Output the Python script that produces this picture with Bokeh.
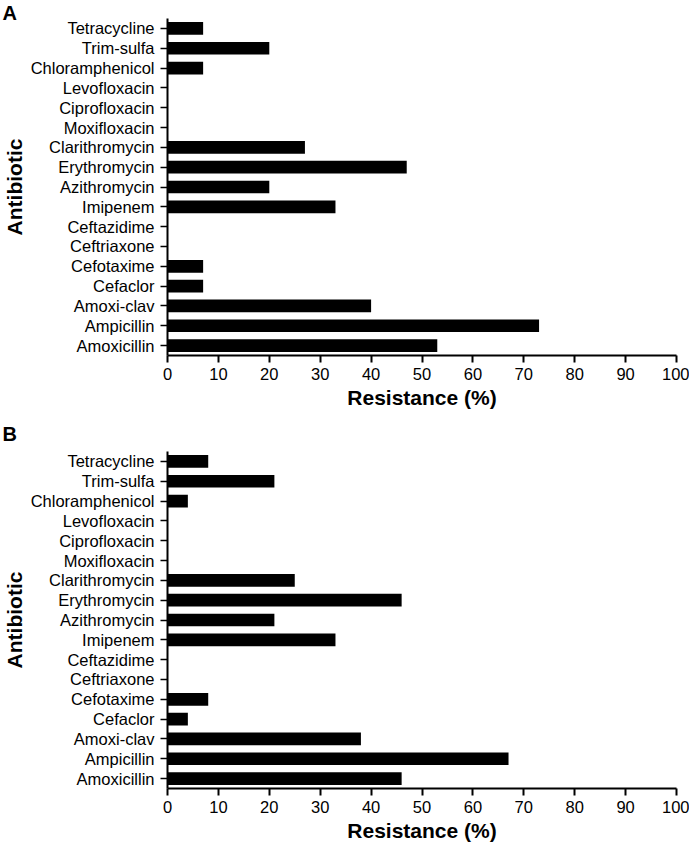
from bokeh.plotting import figure
from bokeh.models import Range1d, Label, FixedTicker
from bokeh.layouts import column
from bokeh.embed import file_html
from bokeh.resources import INLINE

antibiotics = ["Tetracycline", "Trim-sulfa", "Chloramphenicol", "Levofloxacin",
               "Ciprofloxacin", "Moxifloxacin", "Clarithromycin", "Erythromycin",
               "Azithromycin", "Imipenem", "Ceftazidime", "Ceftriaxone",
               "Cefotaxime", "Cefaclor", "Amoxi-clav", "Ampicillin", "Amoxicillin"]
resistance_a = [7, 20, 7, 0, 0, 0, 27, 47, 20, 33, 0, 0, 7, 7, 40, 73, 53]
resistance_b = [8, 21, 4, 0, 0, 0, 25, 46, 21, 33, 0, 0, 8, 4, 38, 67, 46]
x_ticks = [0, 10, 20, 30, 40, 50, 60, 70, 80, 90, 100]
panel_labels = ["A", "B"]
x_title = "Resistance (%)"
y_title = "Antibiotic"

FONT = "Liberation Sans"
W = 689
X0_PX, X100_PX = 167, 676          # pixel position of 0 and 100 on the x axis
N = len(antibiotics)
positions = list(range(N - 1, -1, -1))   # top item -> highest position
tick_names = {pos: name for pos, name in zip(positions, antibiotics)}


def make_panel(values, letter, height, frame_top, frame_bottom, letter_center):
    # whole canvas is the plotting frame; axes are placed at fixed data locations
    pxu = (X100_PX - X0_PX) / 100.0
    xr = Range1d(-X0_PX / pxu, 100 + (W - X100_PX) / pxu)
    pyu = (frame_bottom - frame_top) / N
    ytop, ybot = N - 0.5, -0.5
    yr = Range1d(ybot - (height - frame_bottom) / pyu, ytop + frame_top / pyu)

    p = figure(width=W, height=height, output_backend="svg", toolbar_location=None,
               x_range=xr, y_range=yr, min_border=0,
               min_border_left=0, min_border_right=0,
               min_border_top=0, min_border_bottom=0)
    p.hbar(y=positions, right=values, left=0, height=0.64,
           fill_color="black", line_color=None)
    p.outline_line_color = None
    p.xgrid.grid_line_color = None
    p.ygrid.grid_line_color = None
    p.background_fill_color = "white"
    p.border_fill_color = "white"

    for ax in (p.xaxis[0], p.yaxis[0]):
        ax.axis_line_width = 2
        ax.axis_line_color = "black"
        ax.major_tick_line_color = "black"
        ax.major_tick_out = 7
        ax.major_tick_in = 0
        ax.minor_tick_line_color = None
        ax.major_label_text_font = FONT
        ax.major_label_text_font_size = "16.5px"
        ax.major_label_text_color = "black"
        ax.axis_label_text_font = FONT
        ax.axis_label_text_font_size = "21px"
        ax.axis_label_text_font_style = "bold"
        ax.axis_label_text_color = "black"

    xa = p.xaxis[0]
    xa.ticker = FixedTicker(ticks=x_ticks)
    xa.bounds = (0, 100)
    xa.fixed_location = ybot
    xa.major_tick_line_width = 2
    xa.major_label_standoff = 5
    xa.axis_label = x_title
    xa.axis_label_standoff = 3

    ya = p.yaxis[0]
    ya.ticker = FixedTicker(ticks=list(range(N)))
    ya.major_label_overrides = tick_names
    ya.bounds = (ybot, ytop)
    ya.fixed_location = 0
    ya.major_tick_line_width = 1.5
    ya.major_label_standoff = 6
    ya.axis_label = y_title
    ya.axis_label_standoff = 2

    lab = Label(x=2, y=height - letter_center, x_units="screen", y_units="screen",
                text=letter, text_font=FONT, text_font_size="20px",
                text_font_style="bold", text_color="black",
                text_align="left", text_baseline="middle")
    p.add_layout(lab)
    return p


HA = 410
HB = 845 - HA
pA = make_panel(resistance_a, panel_labels[0], HA, 18, 355, 12)
pB = make_panel(resistance_b, panel_labels[1], HB, 451 - HA, 788 - HA, 433 - HA)

layout = column(pA, pB)
open("out.html", "w").write(file_html(layout, INLINE))
